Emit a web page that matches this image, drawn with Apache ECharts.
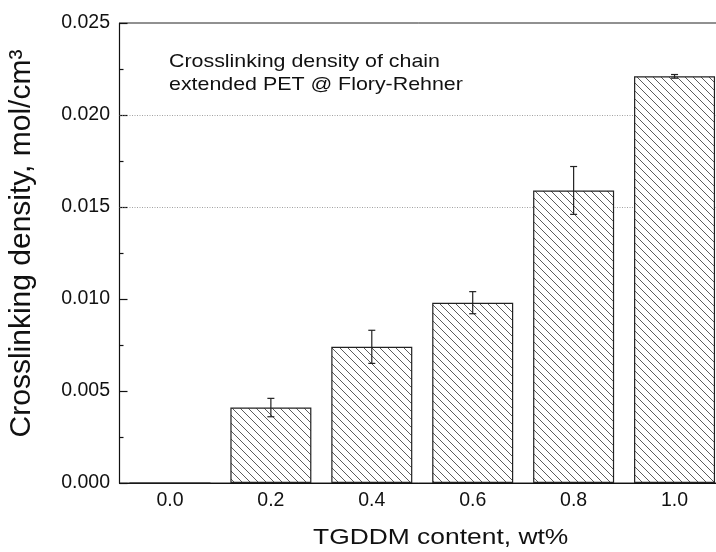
<!DOCTYPE html>
<html>
<head>
<meta charset="utf-8">
<script src="https://cdn.jsdelivr.net/npm/echarts@6/dist/echarts.min.js"></script>
<style>
  html, body { margin: 0; padding: 0; background: #fff; }
  #chart { width: 716px; height: 552px; }
</style>
</head>
<body>
<div id="chart"></div>
<script>
// TGDDM loading (wt%) and the Flory-Rehner crosslink density of each sample
const categories = ['0.0', '0.2', '0.4', '0.6', '0.8', '1.0'];
const density = [0, 0.0041, 0.0074, 0.0098, 0.0159, 0.0221];
const densityErr = [0, 0.0005, 0.0009, 0.0006, 0.0013, 0.0001];
const yTicks = [0, 0.005, 0.010, 0.015, 0.020, 0.025];
const refLines = [0.015, 0.020];

const FONT = '"Liberation Sans", Arial, Helvetica, sans-serif';

// Diagonal hatch fill for the bars
function hatchPattern() {
  const s = 8;
  const c = document.createElement('canvas');
  c.width = s; c.height = s;
  const g = c.getContext('2d');
  g.fillStyle = '#fff';
  g.fillRect(0, 0, s, s);
  g.strokeStyle = '#4a4a4a';
  g.lineWidth = 0.9;
  g.beginPath();
  g.moveTo(-1, -1); g.lineTo(s + 1, s + 1);
  g.moveTo(-1, s - 1); g.lineTo(1, s + 1);
  g.moveTo(s - 1, -1); g.lineTo(s + 1, 1);
  g.stroke();
  return c;
}

const chart = echarts.init(document.getElementById('chart'), null, { renderer: 'canvas' });

chart.setOption({
  animation: false,
  backgroundColor: '#fff',
  textStyle: { fontFamily: FONT },
  grid: {
    left: 119.5, top: 23, width: 605.5, bottom: 69,
    outerBoundsMode: 'none',
    containLabel: false,
    show: true, borderColor: '#222', borderWidth: 1, backgroundColor: 'transparent'
  },
  xAxis: [
    {
      type: 'category',
      data: categories,
      boundaryGap: true,
      axisLine: { lineStyle: { color: '#111', width: 1.2 } },
      axisTick: { alignWithLabel: true, inside: true, length: 7, lineStyle: { color: '#111', width: 1.2 } },
      axisLabel: { fontSize: 19.5, color: '#111', margin: 8, fontFamily: FONT },
      splitLine: { show: false }
    },
    {
      type: 'category',
      data: categories,
      boundaryGap: true,
      position: 'bottom',
      axisLine: { show: false },
      axisTick: { inside: true, length: 3.5, lineStyle: { color: '#111', width: 1.2 } },
      axisLabel: { show: false },
      splitLine: { show: false }
    }
  ],
  yAxis: {
    type: 'value',
    min: 0,
    max: 0.025,
    interval: 0.005,
    name: 'Crosslinking density, mol/cm³',
    nameLocation: 'middle',
    nameGap: 83,
    nameTextStyle: { fontSize: 30, color: '#111', fontFamily: FONT, padding: [0, 0, 0, 19] },
    axisLine: { show: true, lineStyle: { color: '#111', width: 1.2 } },
    axisTick: { show: true, inside: true, length: 8, lineStyle: { color: '#111', width: 1.2 } },
    minorTick: { show: true, splitNumber: 2, length: 4, lineStyle: { color: '#111', width: 1.2 } },
    axisLabel: {
      fontSize: 19.5, color: '#111', margin: 9.5, fontFamily: FONT,
      formatter: v => yTicks.find(t => Math.abs(t - v) < 1e-9).toFixed(3)
    },
    splitLine: { show: false }
  },
  graphic: [
    {
      type: 'text', x: 169, y: 50, scaleX: 1.15,
      style: {
        text: 'Crosslinking density of chain\nextended PET @ Flory-Rehner',
        font: '18.6px ' + FONT, fill: '#111', lineHeight: 23.3, verticalAlign: 'top'
      }
    },
    {
      type: 'text', x: 313, y: 527, scaleX: 1.2,
      style: {
        text: 'TGDDM content, wt%',
        font: '22px ' + FONT, fill: '#111', lineHeight: 22, verticalAlign: 'top'
      }
    }
  ],
  series: [
    {
      // dotted reference levels across the plot
      type: 'custom',
      xAxisIndex: 0,
      data: refLines.map(v => [0, v]),
      renderItem: function (params, api) {
        const cs = params.coordSys;
        const y = Math.round(api.coord([0, api.value(1)])[1]) + 0.5;
        return {
          type: 'line',
          shape: { x1: cs.x, y1: y, x2: cs.x + cs.width, y2: y },
          style: { stroke: '#8a8a8a', lineWidth: 0.8, lineDash: [1, 1.5] }
        };
      },
      z: 1
    },
    {
      type: 'bar',
      xAxisIndex: 0,
      data: density,
      barWidth: 81,
      itemStyle: {
        color: { image: hatchPattern(), repeat: 'repeat' },
        borderColor: '#222',
        borderWidth: 1.2
      },
      z: 2
    },
    {
      type: 'custom',
      xAxisIndex: 0,
      data: density.map((v, i) => [i, v, densityErr[i]]),
      renderItem: function (params, api) {
        const i = api.value(0), v = api.value(1), e = api.value(2);
        if (!v) return null;
        const top = api.coord([i, v + e]);
        const bot = api.coord([i, v - e]);
        const cap = 3.5;
        const st = { stroke: '#222', lineWidth: 1.2 };
        return {
          type: 'group',
          children: [
            { type: 'line', shape: { x1: top[0], y1: top[1], x2: bot[0], y2: bot[1] }, style: st },
            { type: 'line', shape: { x1: top[0] - cap, y1: top[1], x2: top[0] + cap, y2: top[1] }, style: st },
            { type: 'line', shape: { x1: bot[0] - cap, y1: bot[1], x2: bot[0] + cap, y2: bot[1] }, style: st }
          ]
        };
      },
      z: 5
    }
  ]
});
</script>
</body>
</html>
